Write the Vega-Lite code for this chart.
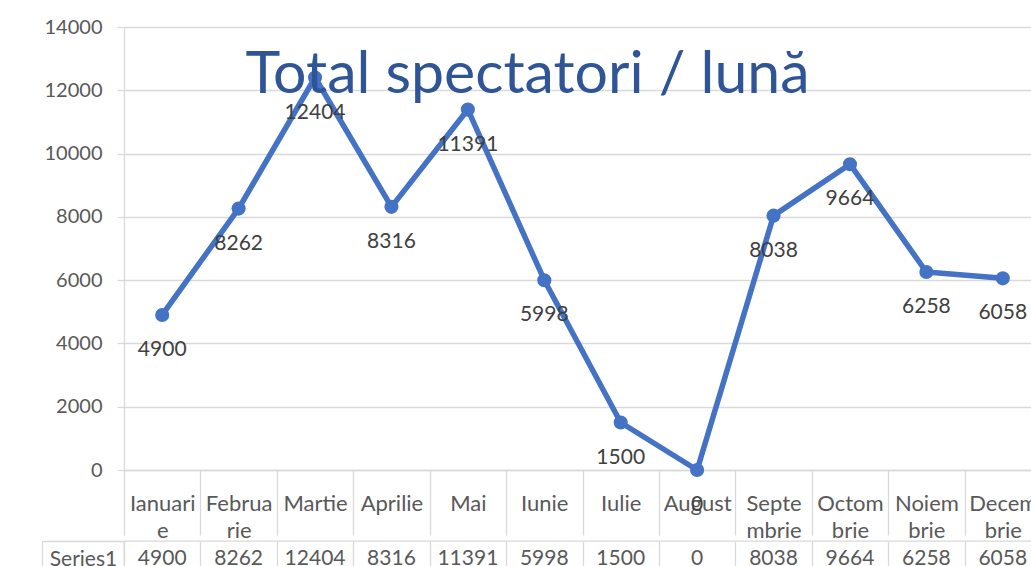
{
  "$schema": "https://vega.github.io/schema/vega-lite/v6.json",
  "padding": {"left": 40, "top": 17, "right": 0, "bottom": 0},
  "background": "#ffffff",
  "config": {
    "font": "Lato",
    "view": {"stroke": null}
  },
  "spacing": -20,
  "data": {
    "values": [
      {"luna": "Ianuarie", "spectatori": 4900, "serie": "Series1"},
      {"luna": "Februarie", "spectatori": 8262, "serie": "Series1"},
      {"luna": "Martie", "spectatori": 12404, "serie": "Series1"},
      {"luna": "Aprilie", "spectatori": 8316, "serie": "Series1"},
      {"luna": "Mai", "spectatori": 11391, "serie": "Series1"},
      {"luna": "Iunie", "spectatori": 5998, "serie": "Series1"},
      {"luna": "Iulie", "spectatori": 1500, "serie": "Series1"},
      {"luna": "August", "spectatori": 0, "serie": "Series1"},
      {"luna": "Septembrie", "spectatori": 8038, "serie": "Series1"},
      {"luna": "Octombrie", "spectatori": 9664, "serie": "Series1"},
      {"luna": "Noiembrie", "spectatori": 6258, "serie": "Series1"},
      {"luna": "Decembrie", "spectatori": 6058, "serie": "Series1"}
    ]
  },
  "vconcat": [
    {
      "width": 917,
      "height": 443,
      "title": {
        "text": "Total spectatori / lună",
        "fontSize": 59,
        "font": "Lato",
        "fontWeight": "normal",
        "color": "#2F5597",
        "anchor": "middle",
        "frame": "group",
        "baseline": "alphabetic",
        "offset": -135,
        "dx": -55
      },
      "encoding": {
        "x": {
          "field": "luna",
          "type": "nominal",
          "sort": null,
          "scale": {"type": "band", "paddingInner": 0, "paddingOuter": 0},
          "axis": {
            "title": null,
            "orient": "bottom",
            "domain": true,
            "domainColor": "#d9d9d9",
            "domainWidth": 1.3,
            "ticks": true,
            "tickBand": "extent",
            "tickSize": 65,
            "tickColor": "#d9d9d9",
            "tickWidth": 1.3,
            "grid": false,
            "labelAngle": 0,
            "labelFontSize": 22,
            "labelColor": "#595959",
            "labelPadding": -32,
            "labelBaseline": "middle",
            "labelLineHeight": 27,
            "labelOverlap": false,
            "labelBound": false,
            "labelExpr": "datum.label == 'Ianuarie' ? ['Ianuari','e'] : datum.label == 'Februarie' ? ['Februa','rie'] : datum.label == 'Septembrie' ? ['Septe','mbrie'] : datum.label == 'Octombrie' ? ['Octom','brie'] : datum.label == 'Noiembrie' ? ['Noiem','brie'] : datum.label == 'Decembrie' ? ['Decem','brie'] : datum.label"
          }
        },
        "y": {
          "field": "spectatori",
          "type": "quantitative",
          "scale": {"domain": [0, 14000], "nice": false},
          "axis": {
            "title": null,
            "values": [0, 2000, 4000, 6000, 8000, 10000, 12000, 14000],
            "format": "d",
            "domain": true,
            "domainColor": "#d9d9d9",
            "domainWidth": 1.3,
            "ticks": true,
            "tickSize": 7,
            "tickColor": "#d9d9d9",
            "tickWidth": 1.3,
            "grid": true,
            "gridColor": "#d9d9d9",
            "gridWidth": 1.3,
            "labelFontSize": 20,
            "labelColor": "#595959",
            "labelPadding": 15
          }
        }
      },
      "layer": [
        {"mark": {"type": "line", "color": "#4472C4", "strokeWidth": 5.5, "strokeJoin": "round"}},
        {"mark": {"type": "point", "filled": true, "opacity": 1, "color": "#4472C4", "size": 200}},
        {
          "mark": {"type": "text", "dy": 35, "fontSize": 21, "color": "#404040", "baseline": "middle", "align": "center"},
          "encoding": {"text": {"field": "spectatori", "type": "quantitative", "format": "d"}}
        }
      ]
    },
    {
      "width": 917,
      "height": 36,
      "view": {"stroke": "#d9d9d9", "strokeWidth": 1.3},
      "mark": {"type": "text", "fontSize": 21, "color": "#595959", "baseline": "middle", "align": "center"},
      "encoding": {
        "x": {
          "field": "luna",
          "type": "nominal",
          "sort": null,
          "scale": {"type": "band", "paddingInner": 0, "paddingOuter": 0},
          "axis": {
            "title": null,
            "orient": "bottom",
            "labels": false,
            "ticks": false,
            "domain": false,
            "grid": true,
            "tickBand": "extent",
            "gridColor": "#d9d9d9",
            "gridWidth": 1.3
          }
        },
        "y": {
          "field": "serie",
          "type": "nominal",
          "scale": {"type": "band", "paddingInner": 0, "paddingOuter": 0},
          "axis": {
            "title": null,
            "offset": 82,
            "domain": true,
            "domainColor": "#d9d9d9",
            "domainWidth": 1.3,
            "ticks": true,
            "tickBand": "extent",
            "tickSize": -82,
            "tickColor": "#d9d9d9",
            "tickWidth": 1.3,
            "grid": false,
            "labelFontSize": 21,
            "labelColor": "#595959",
            "labelAlign": "center",
            "labelBaseline": "middle",
            "labelPadding": 41
          }
        },
        "text": {"field": "spectatori", "type": "quantitative", "format": "d"}
      }
    }
  ]
}
